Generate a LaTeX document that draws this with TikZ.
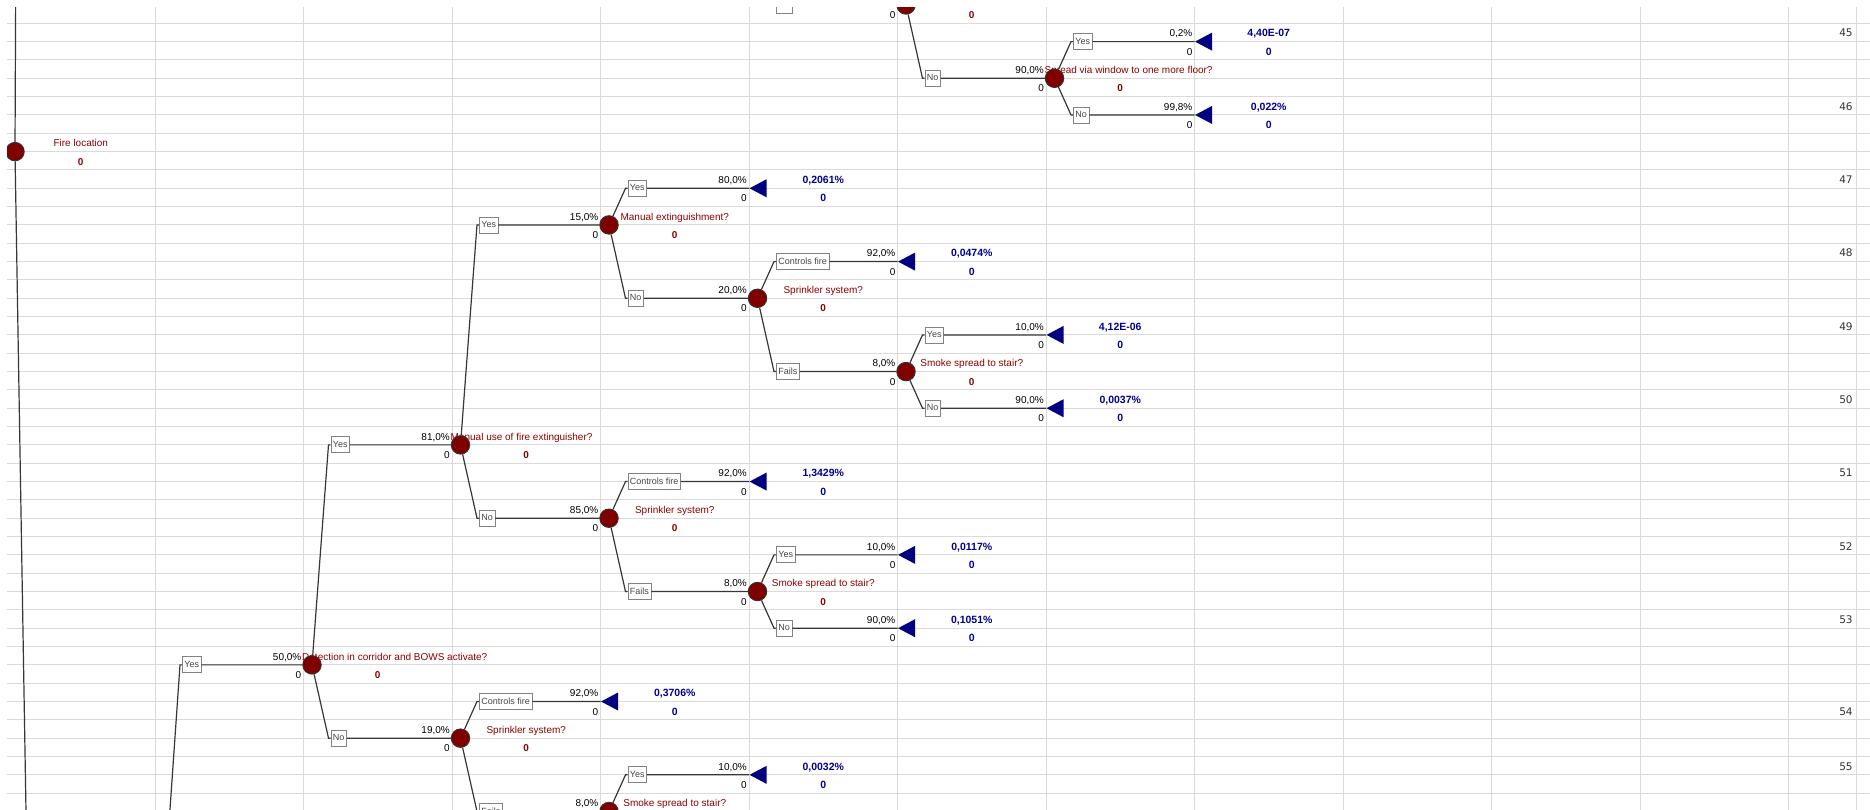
\documentclass[tikz,border=0pt]{standalone}
\usepackage{fontspec}
\setmainfont{Liberation Sans}
\newfontfamily\rowfont{DejaVu Sans}
\usetikzlibrary{
    shapes.geometric
}

\definecolor{nodered}{RGB}{128,0,0}
\definecolor{titlered}{RGB}{140,0,0}
\definecolor{endblue}{RGB}{0,0,128}
\definecolor{valblue}{RGB}{0,0,150}
\definecolor{gridgray}{RGB}{218,218,218}
\definecolor{linegray}{RGB}{55,55,55}
\definecolor{boxgray}{RGB}{130,130,130}
\definecolor{boxtext}{RGB}{70,70,70}

\begin{document}
\begin{tikzpicture}[
      x=148.5pt, y=-18.33pt,
      font=\fontsize{10}{12}\selectfont,
      cell/.style={draw=gridgray, line width=1pt},
      branch/.style={draw=linegray, line width=1.2pt},
      chance/.style={circle, draw=black!80, fill=nodered, line width=0.9pt, minimum size=18.5pt, inner sep=0pt, xshift=8.5pt},
      term/.style={isosceles triangle, shape border rotate=180, isosceles triangle stretches, minimum width=18pt, minimum height=17pt, inner sep=0pt, fill=endblue, anchor=apex},
      brbox/.style={draw=boxgray, fill=white, text=boxtext, line width=0.8pt, font=\fontsize{9}{10}\selectfont, inner xsep=2pt, inner ysep=0pt, minimum height=16pt, text height=6.5pt, text depth=1.5pt, anchor=west, xshift=27pt},
      txt/.style={inner sep=0pt, text height=7pt, text depth=0pt, yshift=-1pt},
      prob/.style={txt, anchor=east, xshift=-2pt},
      qtext/.style={txt, text=titlered},
      longq/.style={qtext, anchor=west, xshift=-1.5pt},
      redval/.style={qtext, font=\fontsize{10}{12}\selectfont\bfseries},
      blueval/.style={txt, text=valblue, font=\fontsize{10.5}{12}\selectfont\bfseries},
      rownum/.style={txt, anchor=east, xshift=-4pt, text=black!80, font=\rowfont\fontsize{10.5}{12}\selectfont}]
    % sheet and cell grid
    \useasboundingbox (-6.5pt,23.3pt) rectangle (1863.5pt,-785.7pt);
    \fill[white] (-6.5pt,23.3pt) rectangle (1863.5pt,-785.7pt);
    \clip (0.5pt,16.3pt) rectangle (1863.5pt,-785.7pt);
    \foreach \r in {0,...,42}
      \draw[cell] (0,\r) -- (12.7,\r);
    \foreach \c in {1,...,12}
      \draw[cell] (\c,-1) -- (\c,44);
    \draw[cell] (12.46,-1) -- (12.46,44);

    % row numbers
    \node[rownum] at (12.46,0.5) {45};
    \node[rownum] at (12.46,4.5) {46};
    \node[rownum] at (12.46,8.5) {47};
    \node[rownum] at (12.46,12.5) {48};
    \node[rownum] at (12.46,16.5) {49};
    \node[rownum] at (12.46,20.5) {50};
    \node[rownum] at (12.46,24.5) {51};
    \node[rownum] at (12.46,28.5) {52};
    \node[rownum] at (12.46,32.5) {53};
    \node[rownum] at (12.46,37.5) {54};
    \node[rownum] at (12.46,40.5) {55};

    % questions, probabilities and values of the chance nodes
    \node[qtext] at (0.5,6.5) {Fire location};
    \node[redval] at (0.5,7.5) {0};
    \node[prob] at (6,-0.5) {0};
    \node[redval] at (6.5,-0.5) {0};
    \node[prob] at (7,2.5) {90,0\%};
    \node[prob] at (7,3.5) {0};
    \node[longq] at (7,2.5) {Spread via window to one more floor?};
    \node[redval] at (7.5,3.5) {0};
    \node[prob] at (4,10.5) {15,0\%};
    \node[prob] at (4,11.5) {0};
    \node[qtext] at (4.5,10.5) {Manual extinguishment?};
    \node[redval] at (4.5,11.5) {0};
    \node[prob] at (5,14.5) {20,0\%};
    \node[prob] at (5,15.5) {0};
    \node[qtext] at (5.5,14.5) {Sprinkler system?};
    \node[redval] at (5.5,15.5) {0};
    \node[prob] at (6,18.5) {8,0\%};
    \node[prob] at (6,19.5) {0};
    \node[qtext] at (6.5,18.5) {Smoke spread to stair?};
    \node[redval] at (6.5,19.5) {0};
    \node[prob] at (3,22.5) {81,0\%};
    \node[prob] at (3,23.5) {0};
    \node[longq] at (3,22.5) {Manual use of fire extinguisher?};
    \node[redval] at (3.5,23.5) {0};
    \node[prob] at (4,26.5) {85,0\%};
    \node[prob] at (4,27.5) {0};
    \node[qtext] at (4.5,26.5) {Sprinkler system?};
    \node[redval] at (4.5,27.5) {0};
    \node[prob] at (5,30.5) {8,0\%};
    \node[prob] at (5,31.5) {0};
    \node[qtext] at (5.5,30.5) {Smoke spread to stair?};
    \node[redval] at (5.5,31.5) {0};
    \node[prob] at (2,34.5) {50,0\%};
    \node[prob] at (2,35.5) {0};
    \node[longq] at (2,34.5) {Detection in corridor and BOWS activate?};
    \node[redval] at (2.5,35.5) {0};
    \node[prob] at (3,38.5) {19,0\%};
    \node[prob] at (3,39.5) {0};
    \node[qtext] at (3.5,38.5) {Sprinkler system?};
    \node[redval] at (3.5,39.5) {0};
    \node[prob] at (4,42.5) {8,0\%};
    \node[qtext] at (4.5,42.5) {Smoke spread to stair?};

    % chance nodes
    \node[chance] (fire) at (0,7) {};
    \node[chance] (top) at (6,-1) {};
    \node[chance] (win) at (7,3) {};
    \node[chance] (me) at (4,11) {};
    \node[chance] (sp1) at (5,15) {};
    \node[chance] (ss1) at (6,19) {};
    \node[chance] (mu) at (3,23) {};
    \node[chance] (sp2) at (4,27) {};
    \node[chance] (ss2) at (5,31) {};
    \node[chance] (det) at (2,35) {};
    \node[chance] (sp3) at (3,39) {};
    \node[chance] (ss3) at (4,43) {};
    \coordinate (fire-up) at ([xshift=25pt]0,-200);
    \coordinate (fire-down) at ([xshift=25pt]0,61);
    \coordinate (top-parent) at ([xshift=8.5pt]5,-6);
    \coordinate (det-parent) at ([xshift=8.5pt]1,48);

    % end nodes
    \node[term] (win-yes) at (8,1) {};
    \node[term] (win-no) at (8,5) {};
    \node[term] (me-yes) at (5,9) {};
    \node[term] (sp1-ok) at (6,13) {};
    \node[term] (ss1-yes) at (7,17) {};
    \node[term] (ss1-no) at (7,21) {};
    \node[term] (sp2-ok) at (5,25) {};
    \node[term] (ss2-yes) at (6,29) {};
    \node[term] (ss2-no) at (6,33) {};
    \node[term] (sp3-ok) at (4,37) {};
    \node[term] (ss3-yes) at (5,41) {};
    \node[prob] at (8,0.5) {0,2\%};
    \node[prob] at (8,1.5) {0};
    \node[blueval] at (8.5,0.5) {4,40E-07};
    \node[blueval] at (8.5,1.5) {0};
    \node[prob] at (8,4.5) {99,8\%};
    \node[prob] at (8,5.5) {0};
    \node[blueval] at (8.5,4.5) {0,022\%};
    \node[blueval] at (8.5,5.5) {0};
    \node[prob] at (5,8.5) {80,0\%};
    \node[prob] at (5,9.5) {0};
    \node[blueval] at (5.5,8.5) {0,2061\%};
    \node[blueval] at (5.5,9.5) {0};
    \node[prob] at (6,12.5) {92,0\%};
    \node[prob] at (6,13.5) {0};
    \node[blueval] at (6.5,12.5) {0,0474\%};
    \node[blueval] at (6.5,13.5) {0};
    \node[prob] at (7,16.5) {10,0\%};
    \node[prob] at (7,17.5) {0};
    \node[blueval] at (7.5,16.5) {4,12E-06};
    \node[blueval] at (7.5,17.5) {0};
    \node[prob] at (7,20.5) {90,0\%};
    \node[prob] at (7,21.5) {0};
    \node[blueval] at (7.5,20.5) {0,0037\%};
    \node[blueval] at (7.5,21.5) {0};
    \node[prob] at (5,24.5) {92,0\%};
    \node[prob] at (5,25.5) {0};
    \node[blueval] at (5.5,24.5) {1,3429\%};
    \node[blueval] at (5.5,25.5) {0};
    \node[prob] at (6,28.5) {10,0\%};
    \node[prob] at (6,29.5) {0};
    \node[blueval] at (6.5,28.5) {0,0117\%};
    \node[blueval] at (6.5,29.5) {0};
    \node[prob] at (6,32.5) {90,0\%};
    \node[prob] at (6,33.5) {0};
    \node[blueval] at (6.5,32.5) {0,1051\%};
    \node[blueval] at (6.5,33.5) {0};
    \node[prob] at (4,36.5) {92,0\%};
    \node[prob] at (4,37.5) {0};
    \node[blueval] at (4.5,36.5) {0,3706\%};
    \node[blueval] at (4.5,37.5) {0};
    \node[prob] at (5,40.5) {10,0\%};
    \node[prob] at (5,41.5) {0};
    \node[blueval] at (5.5,40.5) {0,0032\%};
    \node[blueval] at (5.5,41.5) {0};

    % branch labels
    \node[brbox] (b-top) at (5,-1) {No};
    \node[brbox] (b-top-no) at (6,3) {No};
    \node[brbox] (b-win-yes) at (7,1) {Yes};
    \node[brbox] (b-win-no) at (7,5) {No};
    \node[brbox] (b-me-yes) at (4,9) {Yes};
    \node[brbox] (b-me-no) at (4,15) {No};
    \node[brbox] (b-sp1-ok) at (5,13) {Controls fire};
    \node[brbox] (b-sp1-fail) at (5,19) {Fails};
    \node[brbox] (b-ss1-yes) at (6,17) {Yes};
    \node[brbox] (b-ss1-no) at (6,21) {No};
    \node[brbox] (b-mu-yes) at (3,11) {Yes};
    \node[brbox] (b-mu-no) at (3,27) {No};
    \node[brbox] (b-sp2-ok) at (4,25) {Controls fire};
    \node[brbox] (b-sp2-fail) at (4,31) {Fails};
    \node[brbox] (b-ss2-yes) at (5,29) {Yes};
    \node[brbox] (b-ss2-no) at (5,33) {No};
    \node[brbox] (b-det) at (1,35) {Yes};
    \node[brbox] (b-det-yes) at (2,23) {Yes};
    \node[brbox] (b-det-no) at (2,39) {No};
    \node[brbox] (b-sp3-ok) at (3,37) {Controls fire};
    \node[brbox] (b-sp3-fail) at (3,43) {Fails};
    \node[brbox] (b-ss3-yes) at (4,41) {Yes};

    % branches
    \draw[branch] (fire-up) -- (fire) -- (fire-down);
    \draw[branch] (top-parent) -- ([xshift=-2pt]b-top.west) -- (b-top) -- (top);
    \draw[branch] (top) -- ([xshift=-2pt]b-top-no.west) -- (b-top-no) -- (win);
    \draw[branch] (win) -- ([xshift=-2pt]b-win-yes.west) -- (b-win-yes) -- (win-yes.apex);
    \draw[branch] (win) -- ([xshift=-2pt]b-win-no.west) -- (b-win-no) -- (win-no.apex);
    \draw[branch] (me) -- ([xshift=-2pt]b-me-yes.west) -- (b-me-yes) -- (me-yes.apex);
    \draw[branch] (me) -- ([xshift=-2pt]b-me-no.west) -- (b-me-no) -- (sp1);
    \draw[branch] (sp1) -- ([xshift=-2pt]b-sp1-ok.west) -- (b-sp1-ok) -- (sp1-ok.apex);
    \draw[branch] (sp1) -- ([xshift=-2pt]b-sp1-fail.west) -- (b-sp1-fail) -- (ss1);
    \draw[branch] (ss1) -- ([xshift=-2pt]b-ss1-yes.west) -- (b-ss1-yes) -- (ss1-yes.apex);
    \draw[branch] (ss1) -- ([xshift=-2pt]b-ss1-no.west) -- (b-ss1-no) -- (ss1-no.apex);
    \draw[branch] (mu) -- ([xshift=-2pt]b-mu-yes.west) -- (b-mu-yes) -- (me);
    \draw[branch] (mu) -- ([xshift=-2pt]b-mu-no.west) -- (b-mu-no) -- (sp2);
    \draw[branch] (sp2) -- ([xshift=-2pt]b-sp2-ok.west) -- (b-sp2-ok) -- (sp2-ok.apex);
    \draw[branch] (sp2) -- ([xshift=-2pt]b-sp2-fail.west) -- (b-sp2-fail) -- (ss2);
    \draw[branch] (ss2) -- ([xshift=-2pt]b-ss2-yes.west) -- (b-ss2-yes) -- (ss2-yes.apex);
    \draw[branch] (ss2) -- ([xshift=-2pt]b-ss2-no.west) -- (b-ss2-no) -- (ss2-no.apex);
    \draw[branch] (det-parent) -- ([xshift=-2pt]b-det.west) -- (b-det) -- (det);
    \draw[branch] (det) -- ([xshift=-2pt]b-det-yes.west) -- (b-det-yes) -- (mu);
    \draw[branch] (det) -- ([xshift=-2pt]b-det-no.west) -- (b-det-no) -- (sp3);
    \draw[branch] (sp3) -- ([xshift=-2pt]b-sp3-ok.west) -- (b-sp3-ok) -- (sp3-ok.apex);
    \draw[branch] (sp3) -- ([xshift=-2pt]b-sp3-fail.west) -- (b-sp3-fail) -- (ss3);
    \draw[branch] (ss3) -- ([xshift=-2pt]b-ss3-yes.west) -- (b-ss3-yes) -- (ss3-yes.apex);
  \end{tikzpicture}
\end{document}
